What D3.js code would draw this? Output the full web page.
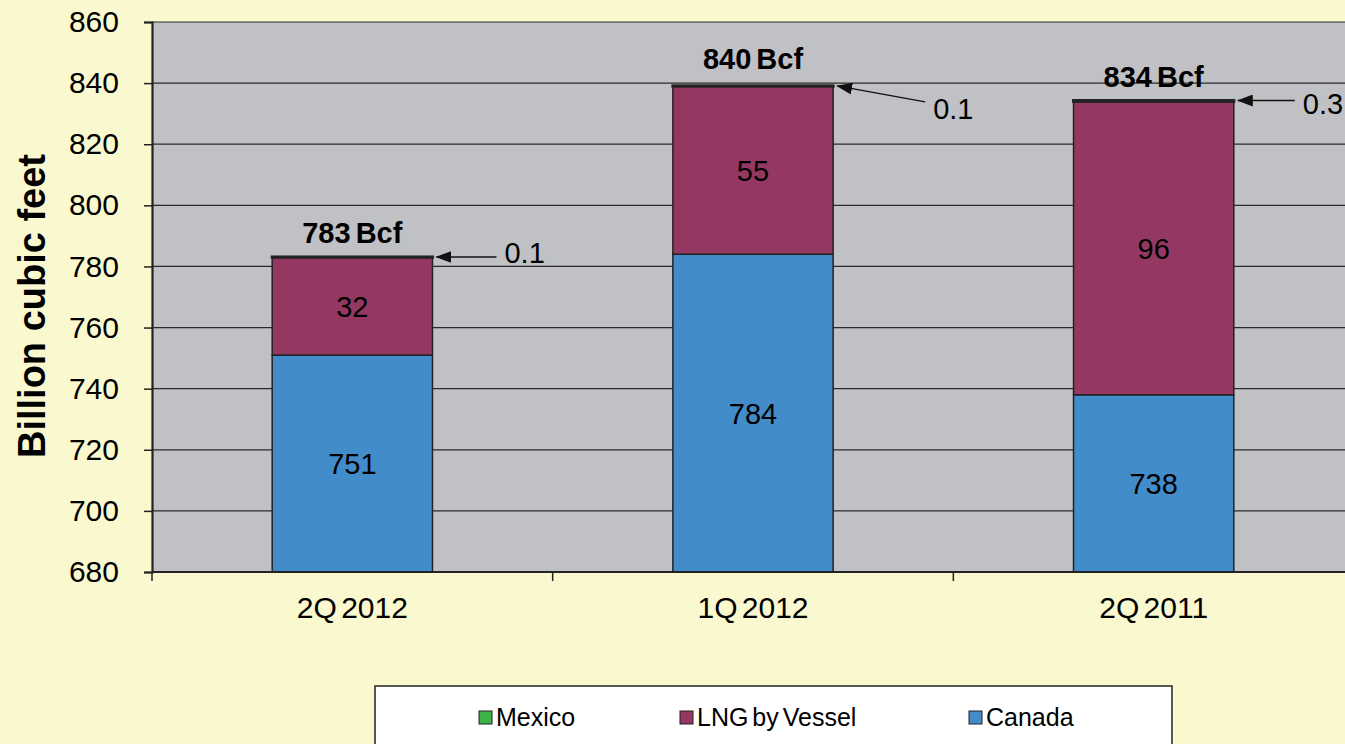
<!DOCTYPE html>
<html>
<head>
<meta charset="utf-8">
<script src="https://cdn.jsdelivr.net/npm/d3@7"></script>
<style>
    html, body { margin: 0; padding: 0; background: #faf8ce; overflow: hidden; }
    text { font-family: "Liberation Sans", Arial, sans-serif; fill: #000; }
</style>
</head>
<body>
<svg id="chart" width="1345" height="744"></svg>
<script>
// data
const categories = ['2Q 2012', '1Q 2012', '2Q 2011'];
const canada = [751, 784, 738];
const lng = [32, 55, 96];
const mexico = [0.1, 0.1, 0.3];
const totals = [783, 840, 834];
const yTicks = [680, 700, 720, 740, 760, 780, 800, 820, 840, 860];

const series_names = ['Mexico', 'LNG by Vessel', 'Canada'];
const colors = {'Canada': '#438cca', 'LNG by Vessel': '#943863', 'Mexico': '#3db349'};

// callout offsets for the small Mexico values
const arrow_dx = [60, 88, 57];
const arrow_dy = [0, 16, 0];
const callout_text_dy = [-4, 7, 3];

const svg = d3.select('#chart');

const plot_left = 152;
const plot_right = 1354;
const plot_top = 22;
const plot_bottom = 572;
const font_size = 29;

const x = d3.scaleBand()
    .domain(categories)
    .range([plot_left, plot_right])
    .paddingInner(0.6)
    .paddingOuter(0.3);

const y = d3.scaleLinear()
    .domain([680, 860])
    .range([plot_bottom, plot_top]);

const rows = categories.map((c, i) => ({
    category: c,
    'Canada': canada[i],
    'LNG by Vessel': lng[i],
    'Mexico': mexico[i],
}));
const layers = d3.stack().keys(['Canada', 'LNG by Vessel', 'Mexico'])(rows);

const defs = svg.append('defs');
defs.append('marker')
    .attr('id', 'arrow')
    .attr('viewBox', '0 0 16 12')
    .attr('refX', 15)
    .attr('refY', 6)
    .attr('markerWidth', 16)
    .attr('markerHeight', 12)
    .attr('markerUnits', 'userSpaceOnUse')
    .attr('orient', 'auto')
    .append('path')
    .attr('d', 'M0,0 L16,6 L0,12 z')
    .attr('fill', '#111');

// plot area
svg.append('rect')
    .attr('x', plot_left)
    .attr('y', plot_top)
    .attr('width', plot_right - plot_left)
    .attr('height', plot_bottom - plot_top)
    .attr('fill', '#c0c1c4');

// grid
svg.append('g')
    .selectAll('line')
    .data(yTicks)
    .join('line')
    .attr('x1', plot_left)
    .attr('x2', plot_right)
    .attr('y1', d => y(d))
    .attr('y2', d => y(d))
    .attr('stroke', '#2a2a2a')
    .attr('stroke-width', 1.2);

// bars (canada is clipped at the axis floor of 680)
layers.forEach(layer => {
    svg.append('g')
        .selectAll('rect')
        .data(layer)
        .join('rect')
        .attr('x', d => x(d.data.category))
        .attr('width', x.bandwidth())
        .attr('y', d => y(Math.max(d[1], 680)))
        .attr('height', d => y(Math.max(d[0], 680)) - y(d[1]))
        .attr('fill', colors[layer.key])
        .attr('stroke', '#222')
        .attr('stroke-width', layer.key === 'Mexico' ? 3 : 1.5);
});

// segment labels
const seg_labels = [
    {values: canada, layer: layers[0]},
    {values: lng, layer: layers[1]},
];
seg_labels.forEach(s => {
    svg.append('g')
        .selectAll('text')
        .data(s.layer)
        .join('text')
        .attr('x', d => x(d.data.category) + x.bandwidth() / 2)
        .attr('y', d => (y(Math.max(d[0], 680)) + y(d[1])) / 2)
        .attr('dy', '0.36em')
        .attr('text-anchor', 'middle')
        .attr('font-size', font_size)
        .text((d, i) => s.values[i]);
});

// totals
svg.append('g')
    .selectAll('text')
    .data(categories)
    .join('text')
    .attr('x', d => x(d) + x.bandwidth() / 2)
    .attr('y', (d, i) => y(totals[i]) - 14)
    .attr('text-anchor', 'middle')
    .attr('font-size', font_size)
    .attr('font-weight', 'bold')
    .attr('word-spacing', -3)
    .text((d, i) => `${totals[i]} Bcf`);

// mexico callouts
categories.forEach((c, i) => {
    const tip_x = x(c) + x.bandwidth() + 4;
    const tip_y = y(canada[i] + lng[i] + mexico[i]);
    const tail_x = tip_x + arrow_dx[i];
    const tail_y = tip_y + arrow_dy[i];
    svg.append('line')
        .attr('x1', tail_x)
        .attr('y1', tail_y)
        .attr('x2', tip_x)
        .attr('y2', tip_y)
        .attr('stroke', '#111')
        .attr('stroke-width', 1.4)
        .attr('marker-end', 'url(#arrow)');
    svg.append('text')
        .attr('x', tail_x + 8)
        .attr('y', tail_y + callout_text_dy[i])
        .attr('dy', '0.36em')
        .attr('font-size', font_size)
        .text(mexico[i]);
});

// y axis
const y_axis = svg.append('g')
    .attr('transform', `translate(${plot_left},0)`)
    .call(d3.axisLeft(y).tickValues(yTicks).tickSize(8).tickPadding(25));
y_axis.select('.domain').attr('stroke', '#222').attr('stroke-width', 2.2);
y_axis.selectAll('.tick line').attr('stroke', '#222').attr('stroke-width', 1.5);
y_axis.selectAll('.tick text')
    .attr('font-size', 30)
    .attr('font-family', '"Liberation Sans", Arial, sans-serif')
    .attr('fill', '#000');

// x axis
const boundaries = d3.range(categories.length + 1).map(i => plot_left + i * x.step());
svg.append('line')
    .attr('x1', plot_left)
    .attr('x2', plot_right)
    .attr('y1', plot_bottom)
    .attr('y2', plot_bottom)
    .attr('stroke', '#222')
    .attr('stroke-width', 2.2);
svg.append('g')
    .selectAll('line')
    .data(boundaries)
    .join('line')
    .attr('x1', d => d)
    .attr('x2', d => d)
    .attr('y1', plot_bottom)
    .attr('y2', plot_bottom + 9)
    .attr('stroke', '#222')
    .attr('stroke-width', 1.5);
svg.append('g')
    .selectAll('text')
    .data(categories)
    .join('text')
    .attr('x', d => x(d) + x.bandwidth() / 2)
    .attr('y', 607)
    .attr('dy', '0.36em')
    .attr('text-anchor', 'middle')
    .attr('font-size', 30)
    .attr('word-spacing', -4)
    .text(d => d);

// y title
svg.append('text')
    .attr('transform', 'translate(45,306) rotate(-90)')
    .attr('text-anchor', 'middle')
    .attr('font-size', 38)
    .attr('font-weight', 'bold')
    .text('Billion cubic feet');

// legend
const legend = svg.append('g');
legend.append('rect')
    .attr('x', 375)
    .attr('y', 686)
    .attr('width', 797)
    .attr('height', 70)
    .attr('fill', '#fff')
    .attr('stroke', '#222')
    .attr('stroke-width', 1.5);
const legend_x = [479, 680, 969];
series_names.forEach((name, i) => {
    legend.append('rect')
        .attr('x', legend_x[i])
        .attr('y', 711)
        .attr('width', 13)
        .attr('height', 13)
        .attr('fill', colors[name])
        .attr('stroke', '#222')
        .attr('stroke-width', 1);
    legend.append('text')
        .attr('x', legend_x[i] + 17)
        .attr('y', 717)
        .attr('dy', '0.36em')
        .attr('font-size', 25)
        .attr('word-spacing', -3)
        .text(name);
});
</script>
</body>
</html>
